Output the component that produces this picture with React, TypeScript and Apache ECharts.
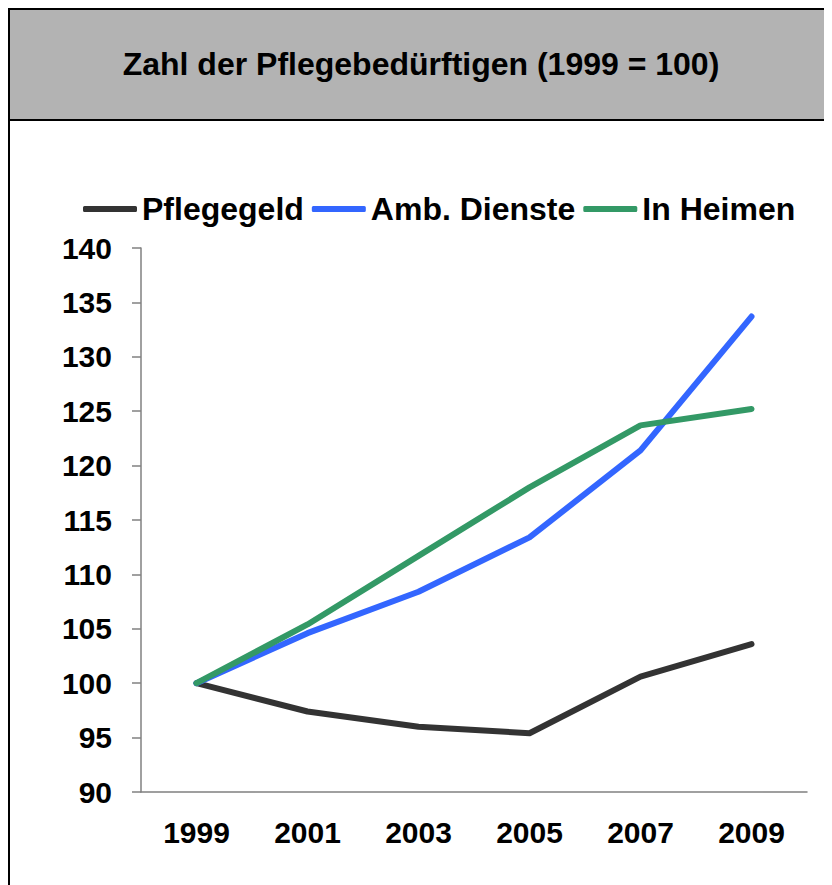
import React, { useEffect, useRef } from "react";
import * as echarts from "echarts";

const years = ["1999", "2001", "2003", "2005", "2007", "2009"];
const pflegegeld = [100, 97.4, 96.0, 95.4, 100.6, 103.6];
const ambDienste = [100, 104.6, 108.4, 113.4, 121.4, 133.7];
const inHeimen = [100, 105.4, 111.7, 118.0, 123.7, 125.2];
const seriesNames = ["Pflegegeld", "Amb. Dienste", "In Heimen"];
const seriesColors = ["#333333", "#3366ff", "#339966"];
const titleText = "Zahl der Pflegebedürftigen (1999 = 100)";

const FONT = "'Liberation Sans', Arial, sans-serif";

export default function App() {
  const ref = useRef<HTMLDivElement>(null);
  useEffect(() => {
    if (!ref.current) return;
    const chart = echarts.init(ref.current, undefined, { renderer: "svg" });
    const data = [pflegegeld, ambDienste, inHeimen];
    chart.setOption({
      animation: false,
      backgroundColor: "#ffffff",
      graphic: [
        {
          type: "rect",
          shape: { x: 1, y: 1, width: 900, height: 1000 },
          style: { fill: "#ffffff", stroke: "#000000", lineWidth: 2 },
          z: -10,
        },
        {
          type: "rect",
          shape: { x: 1, y: 1, width: 900, height: 111 },
          style: { fill: "#b3b3b3", stroke: "#000000", lineWidth: 2 },
          z: -9,
        },
        {
          type: "text",
          x: 413,
          y: 56,
          style: {
            text: titleText,
            font: `bold 32px ${FONT}`,
            fill: "#000000",
            align: "center",
            verticalAlign: "middle",
          },
        },
      ],
      legend: {
        left: 70,
        top: 180,
        icon: "roundRect",
        itemWidth: 54,
        itemHeight: 6,
        itemGap: 8,
        data: seriesNames,
        textStyle: {
          fontFamily: FONT,
          fontWeight: "bold",
          fontSize: 32,
          color: "#000000",
        },
      },
      grid: { left: 133, right: 25, top: 240, bottom: 93, containLabel: false },
      xAxis: {
        type: "category",
        data: years,
        boundaryGap: true,
        axisLine: { show: true, lineStyle: { color: "#808080", width: 1.5 } },
        axisTick: { show: false },
        axisLabel: {
          fontFamily: FONT,
          fontWeight: "bold",
          fontSize: 30,
          color: "#000000",
          margin: 25,
        },
        splitLine: { show: false },
      },
      yAxis: {
        type: "value",
        min: 90,
        max: 140,
        interval: 5,
        axisLine: { show: true, lineStyle: { color: "#808080", width: 1.5 } },
        axisTick: { show: true, length: 9, lineStyle: { color: "#808080", width: 1.5 } },
        axisLabel: {
          fontFamily: FONT,
          fontWeight: "bold",
          fontSize: 30,
          color: "#000000",
          margin: 29,
        },
        splitLine: { show: false },
      },
      series: seriesNames.map((name, i) => ({
        name,
        type: "line",
        data: data[i],
        symbol: "none",
        color: seriesColors[i],
        lineStyle: { color: seriesColors[i], width: 6, cap: "round", join: "round" },
        itemStyle: { color: seriesColors[i] },
      })),
    });
    return () => chart.dispose();
  }, []);
  return <div ref={ref} style={{ width: 824, height: 877 }} />;
}
